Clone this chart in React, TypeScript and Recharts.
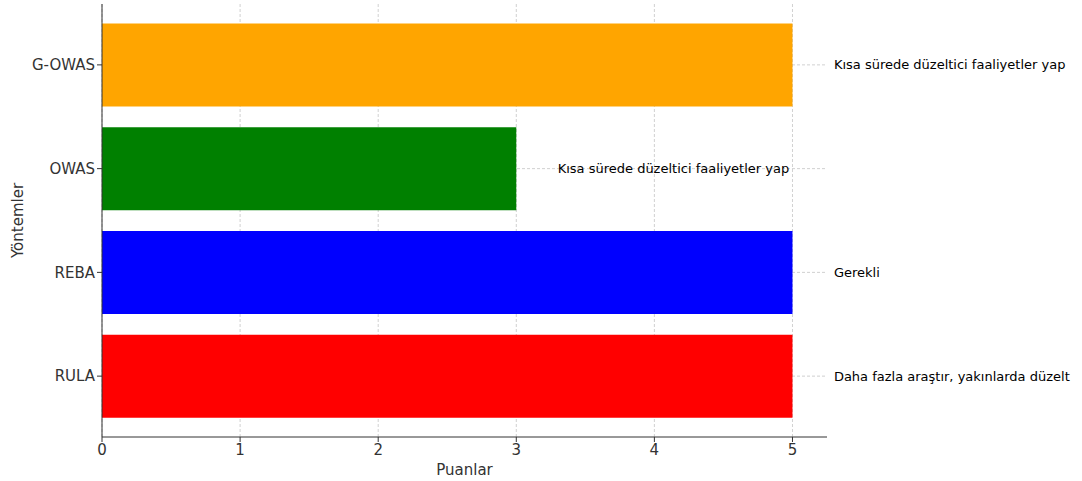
import React from 'react';
import { BarChart, Bar, XAxis, YAxis, CartesianGrid, Cell, LabelList } from 'recharts';

const methods = ['G-OWAS', 'OWAS', 'REBA', 'RULA'];
const scores = [5, 3, 5, 5];
const actions = [
  'Kısa sürede düzeltici faaliyetler yap',
  'Kısa sürede düzeltici faaliyetler yap',
  'Gerekli',
  'Daha fazla araştır, yakınlarda düzelt',
];
const barColors = ['#FFA500', '#008000', '#0000FF', '#FF0000'];
const xTicks = [0, 1, 2, 3, 4, 5];

const FONT = '"DejaVu Sans", sans-serif';

const data = methods.map((m, i) => ({ method: m, score: scores[i], action: actions[i] }));

// text sits 0.3 units right of the bar end (138 px per unit)
const ActionLabel = (props: any) => {
  const { x, y, width, height, value } = props;
  return (
    <text
      x={x + width + 41.4}
      y={y + height / 2}
      dominantBaseline="central"
      fontSize={13}
      fontFamily={FONT}
      fill="#000"
    >
      {value}
    </text>
  );
};

export default function App() {
  return (
    <div style={{ position: 'absolute', left: 0, top: 0, background: '#fff' }}>
      <BarChart
        width={1082}
        height={481}
        data={data}
        layout="vertical"
        margin={{ top: 4, right: 255, bottom: 0, left: 0 }}
        barCategoryGap="10%"
      >
        <XAxis
          type="number"
          domain={[0, 5.25]}
          ticks={xTicks}
          allowDataOverflow
          height={44}
          stroke="#333"
          tickLine={{ stroke: '#333' }}
          tickSize={5}
          tick={{ fill: '#333', fontSize: 15, fontFamily: FONT }}
          label={{ value: 'Puanlar', position: 'insideBottom', offset: 6, fill: '#333', fontSize: 15, fontFamily: FONT }}
        />
        <YAxis
          type="category"
          dataKey="method"
          width={102}
          padding={{ top: 9, bottom: 9 }}
          axisLine={{ stroke: '#333' }}
          tickLine={{ stroke: '#333' }}
          tickSize={5}
          tick={{ fill: '#333', fontSize: 15, fontFamily: FONT }}
          label={{ value: 'Yöntemler', angle: -90, position: 'insideLeft', offset: 18, fill: '#333', fontSize: 15, fontFamily: FONT, style: { textAnchor: 'middle' } }}
        />
        <Bar dataKey="score" isAnimationActive={false}>
          {data.map((d, i) => (
            <Cell key={d.method} fill={barColors[i]} />
          ))}
          <LabelList dataKey="action" content={ActionLabel} />
        </Bar>
        <CartesianGrid stroke="#b0b0b0" strokeOpacity={0.6} strokeDasharray="3 2" syncWithTicks />
      </BarChart>
    </div>
  );
}
